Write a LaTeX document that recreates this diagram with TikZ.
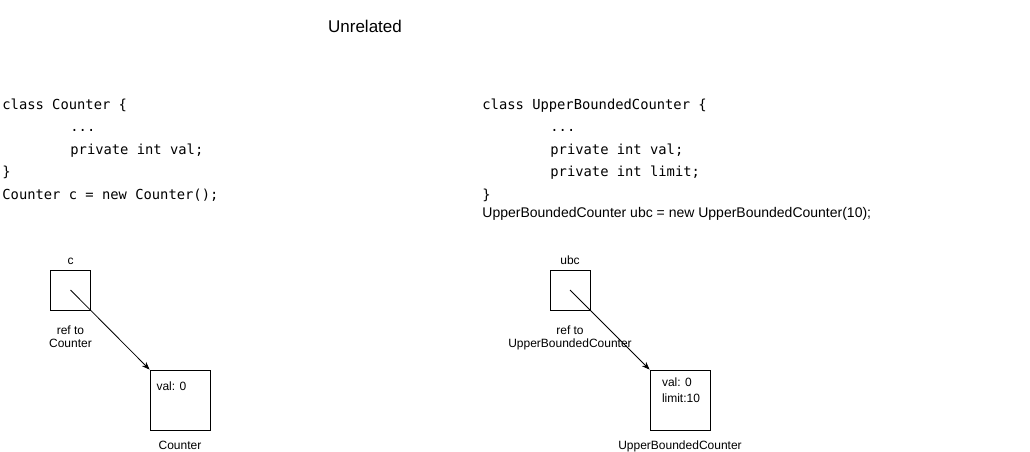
\documentclass[tikz,border=0pt]{standalone}
\usepackage{fontspec}
\setmainfont{Liberation Sans}
\setmonofont{DejaVu Sans Mono}
\usetikzlibrary{positioning,arrows.meta}

\begin{document}
\begin{tikzpicture}[x=1pt,y=-1pt,>={Stealth[length=8pt,width=6pt]},line width=0.8pt,
    every node/.style={inner sep=0pt,font=\fontsize{12}{13.5}\selectfont},
    codeline/.style={anchor=base west,font=\fontsize{13.8}{16}\ttfamily},
    refbox/.style={draw,minimum size=40pt},
    objbox/.style={draw,minimum size=60pt},]
                        \useasboundingbox (0,0) rectangle (1030,451);

                        \node [font=\fontsize{17}{20}\selectfont](title) at (365,26){Unrelated};

                        % left side
                        \node [codeline](lc1) at (2,109){class Counter \{};
                        \node [codeline](lc2) at (70,131.5){...};
                        \node [codeline](lc3) at (70,154){private int val;};
                        \node [codeline](lc4) at (2,176.5){\}};
                        \node [codeline](lc5) at (2,199){Counter c = new Counter();};

                        \node [refbox](cref) at (70.5,290){};
                        \node [above = 5pt of cref](cname){c};
                        \node [below = 15pt of cref, align=center](cnote){ref to\\Counter};
                        \node [objbox](cobj) at (180,400){};
                        \node [below = 10pt of cobj](cobjname){Counter};
                        \node [anchor=north west](cval) at ([xshift=6.5pt,yshift=-12pt]cobj.north west){val: 0};

                        % right side
                        \node [codeline](rc1) at (482,109){class UpperBoundedCounter \{};
                        \node [codeline](rc2) at (550,131.5){...};
                        \node [codeline](rc3) at (550,154){private int val;};
                        \node [codeline](rc4) at (550,176.5){private int limit;};
                        \node [codeline](rc5) at (482,199){\}};
                        \node [anchor=base west, font=\fontsize{14}{16}\selectfont](rc6) at (482,217.7){UpperBoundedCounter ubc = new UpperBoundedCounter(10);};

                        \node [refbox](ubcref) at (570,290){};
                        \node [above = 5pt of ubcref](ubcname){ubc};
                        \node [below = 15pt of ubcref, align=center](ubcnote){ref to\\UpperBoundedCounter};
                        \node [objbox](ubcobj) at (680,400){};
                        \node [below = 10pt of ubcobj](ubcobjname){UpperBoundedCounter};
                        \node [anchor=north west, align=left, font=\fontsize{12}{15.5}\selectfont](ubcval) at ([xshift=12pt,yshift=-8pt]ubcobj.north west){val: 0\\limit:10};

                        \path[->]
                            (cref.center) edge (cobj.north west)
                            (ubcref.center) edge (ubcobj.north west)
                        ;

                    \end{tikzpicture}
\end{document}
